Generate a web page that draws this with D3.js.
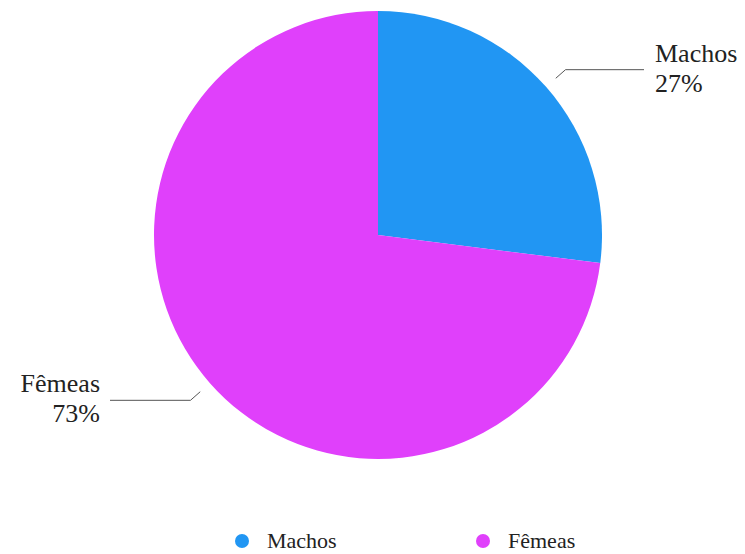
<!DOCTYPE html>
<html lang="pt">
<head>
<meta charset="UTF-8">
<title>Machos e Fêmeas</title>
<script src="https://unpkg.com/d3@7.8.5/dist/d3.min.js"></script>
<style>
  * { margin: 0; padding: 0; box-sizing: border-box; }
  body { background: #fff; }
  svg { display: block; }
  svg text { font-family: "Liberation Serif", "Times New Roman", serif; }
</style>
</head>
<body>
<svg id="chart" width="745" height="554"></svg>
<script>
  // dados
  const categories = ['Machos', 'Fêmeas']
  const values = [27, 73]
  const colors = ['#2196F3', '#E040FB']

  const svg = d3.select('#chart')
  const cx = 378, cy = 235, r = 224

  const pie = d3.pie().sort(null).value(d => d.v)
  const arcs = pie(categories.map((c, i) => ({ c, v: values[i] })))

  const arc = d3.arc().innerRadius(0).outerRadius(r)
  const g = svg.append('g').attr('transform', `translate(${cx},${cy})`)

  g.selectAll('path')
    .data(arcs)
    .enter().append('path')
    .attr('d', arc)
    .attr('fill', (d, i) => colors[i])

  // rótulos com linhas
  const inner = d3.arc().innerRadius(r + 13).outerRadius(r + 13)
  const outer = d3.arc().innerRadius(r + 26).outerRadius(r + 26)
  const lineEnd = 266

  arcs.forEach((d, i) => {
    const p1 = inner.centroid(d)
    const p2 = outer.centroid(d)
    const right = p2[0] > 0
    const p3 = [right ? lineEnd : -lineEnd - 2, p2[1]]
    g.append('polyline')
      .attr('points', [p1, p2, p3].map(p => p.join(',')).join(' '))
      .attr('fill', 'none')
      .attr('stroke', '#555')
      .attr('stroke-width', 1)

    const tx = right ? p3[0] + 11 : p3[0] - 10
    const t = g.append('text')
      .attr('text-anchor', right ? 'start' : 'end')
      .attr('font-size', 26)
      .attr('fill', '#222')
    t.append('tspan').attr('x', tx).attr('y', p2[1] - 8).text(categories[i])
    t.append('tspan').attr('x', tx).attr('y', p2[1] + 22).text(values[i] + '%')
  })

  // legenda
  const legendX = d3.scalePoint().domain(categories).range([242, 483])
  const leg = svg.append('g').selectAll('g')
    .data(categories)
    .enter().append('g')
    .attr('transform', d => `translate(${legendX(d)},541)`)

  leg.append('circle')
    .attr('r', 7)
    .attr('fill', (d, i) => colors[i])
  leg.append('text')
    .attr('x', 25)
    .attr('y', 7)
    .attr('font-size', 22)
    .attr('fill', '#222')
    .text(d => d)
</script>
</body>
</html>
